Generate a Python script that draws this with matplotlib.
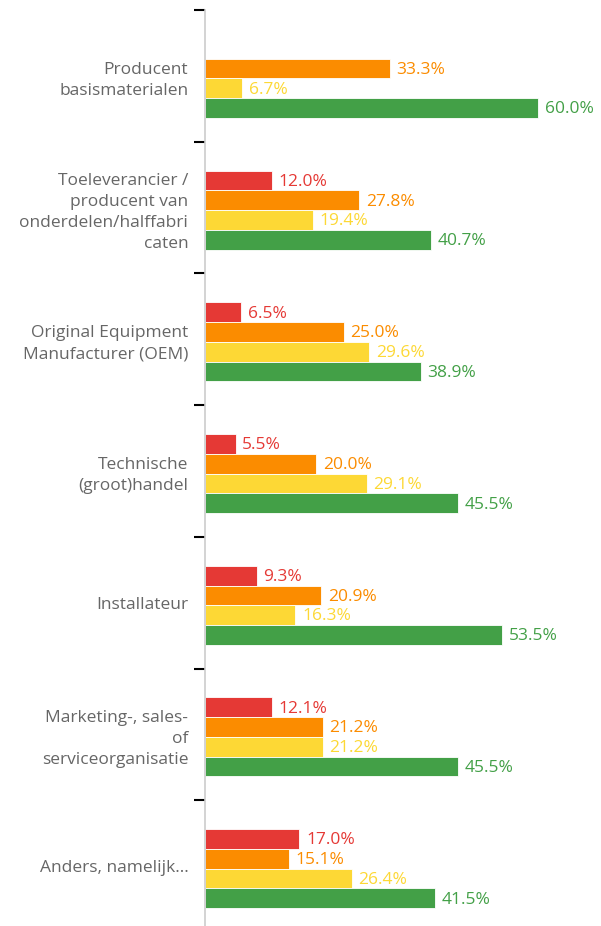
import numpy as np
import matplotlib.pyplot as plt

# categories and series values (percent)
categories = [
    "Producent\nbasismaterialen",
    "Toeleverancier /\nproducent van\nonderdelen/halffabri\ncaten",
    "Original Equipment\nManufacturer (OEM)",
    "Technische\n(groot)handel",
    "Installateur",
    "Marketing-, sales-\nof\nserviceorganisatie",
    "Anders, namelijk...",
]
red_vals = [None, 12.0, 6.5, 5.5, 9.3, 12.1, 17.0]
orange_vals = [33.3, 27.8, 25.0, 20.0, 20.9, 21.2, 15.1]
yellow_vals = [6.7, 19.4, 29.6, 29.1, 16.3, 21.2, 26.4]
green_vals = [60.0, 40.7, 38.9, 45.5, 53.5, 45.5, 41.5]

series = [red_vals, orange_vals, yellow_vals, green_vals]
colors = ["#E53935", "#FB8C00", "#FDD835", "#43A047"]

plt.rcParams['font.family'] = ['Open Sans', 'DejaVu Sans']

fig = plt.figure(figsize=(6.01, 9.26), dpi=100)
ax = fig.add_axes([205 / 601, 0, 396 / 601, 916 / 926])

bar_h = 0.15
y = np.arange(len(categories))
for i, (vals, col) in enumerate(zip(series, colors)):
    offset = (i - 1.5) * bar_h + 0.02
    for j, v in enumerate(vals):
        if v is None:
            continue
        ax.barh(y[j] + offset, v, height=bar_h, color=col,
                edgecolor="white", linewidth=0.6)
        ax.text(v + 1.2, y[j] + offset + 0.01, f"{v:.1f}%", color=col,
                fontsize=12.5, va="center", ha="left")

ax.set_xlim(0, 396 / 5.55)
ax.set_ylim(-0.5 + 916 / 131.7, -0.5)

# boundary ticks (major) and category labels (minor)
ax.set_yticks(np.arange(-0.5, len(categories) - 0.5, 1.0))
ax.set_yticklabels([])
ax.tick_params(axis="y", which="major", direction="out", length=8,
               width=1.5, color="black")
ax.set_yticks(y, minor=True)
ax.set_yticklabels(categories, minor=True, fontsize=12.5, color="#666666",
                   linespacing=1.42)
ax.tick_params(axis="y", which="minor", length=0, pad=12)
ax.set_xticks([])

for s in ["top", "right", "bottom"]:
    ax.spines[s].set_visible(False)
ax.spines["left"].set_color("#cccccc")
ax.spines["left"].set_linewidth(1.2)

plt.savefig("out.png", dpi=100)
